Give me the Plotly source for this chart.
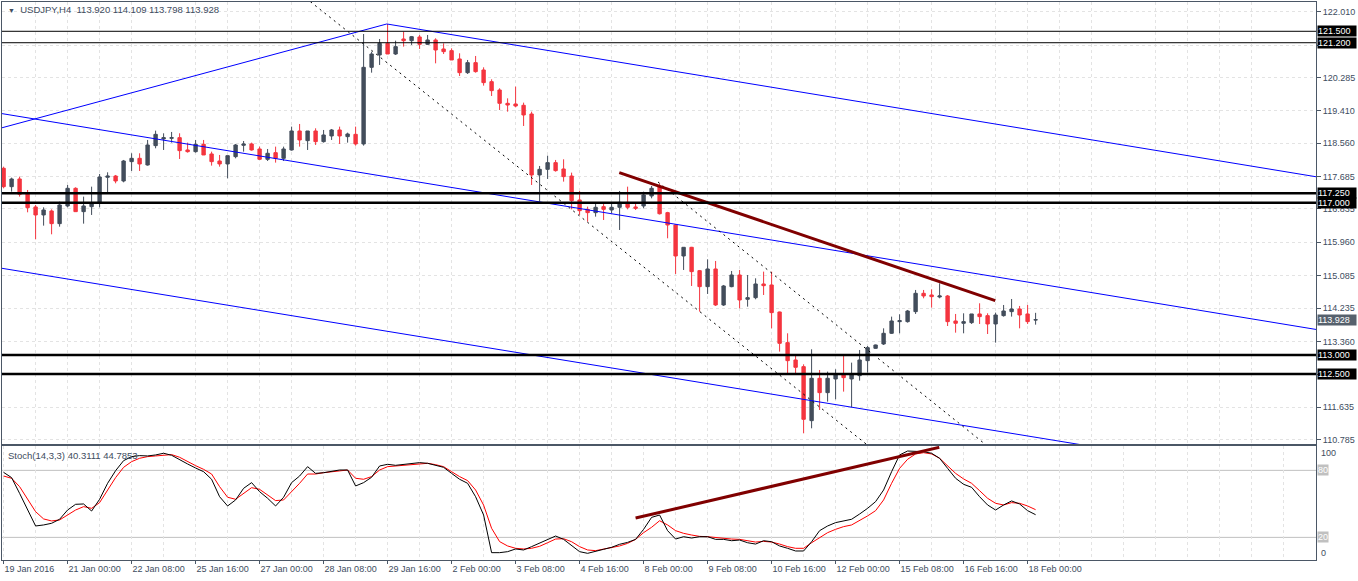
import plotly.graph_objects as go

W, H = 1358, 581

# ---- candles (H4 bars, index 0 = 19 Jan 2016 16:00) ----
opens = [117.903, 117.421, 117.623, 117.238, 116.888, 116.678, 116.783, 116.450, 116.914, 117.378,
         116.765, 116.896, 117.001, 117.667, 117.701, 117.570, 118.078, 118.165, 117.990, 118.498,
         118.673, 118.690, 118.708, 118.384, 118.340, 118.533, 118.279, 118.095, 118.017, 118.209,
         118.507, 118.542, 118.410, 118.139, 118.314, 118.165, 118.384, 118.883, 118.629, 118.883,
         118.603, 118.752, 118.909, 118.734, 118.795, 118.542, 120.554, 120.878, 121.184, 120.904,
         121.298, 121.254, 121.351, 121.158, 121.272, 121.036, 120.992, 120.773, 120.414, 120.677,
         120.484, 120.178, 119.959, 119.609, 119.592, 119.557, 119.329, 117.728, 117.876, 118.052,
         117.885, 117.701, 117.071, 116.826, 116.739, 116.896, 116.809, 116.879, 117.010, 116.888,
         116.914, 117.176, 117.420, 116.739, 116.415, 115.601, 115.829, 115.216, 114.796, 115.260,
         114.315, 114.796, 115.102, 114.464, 114.507, 114.866, 114.840, 114.131, 113.326, 112.871,
         112.696, 111.278, 112.390, 112.013, 112.372, 112.477, 112.372, 112.460, 112.853, 113.177,
         113.291, 113.571, 113.877, 113.877, 114.140, 114.621, 114.577, 114.525, 114.551, 113.895,
         113.834, 113.851, 114.079, 114.035, 113.816, 114.035, 114.140, 114.210, 114.079, 113.920]
highs = [117.946, 117.658, 117.684, 117.334, 116.940, 116.879, 116.826, 117.028, 117.465, 117.404,
         117.159, 117.421, 117.754, 117.798, 117.728, 118.122, 118.297, 118.297, 118.647, 118.892,
         118.822, 118.857, 118.822, 118.577, 118.647, 118.647, 118.340, 118.253, 118.235, 118.542,
         118.620, 118.577, 118.472, 118.410, 118.472, 118.472, 118.997, 119.067, 118.883, 118.953,
         118.909, 118.935, 118.997, 118.839, 118.997, 121.429, 120.966, 121.298, 121.692, 121.254,
         121.491, 121.377, 121.403, 121.403, 121.316, 121.184, 121.053, 120.922, 120.747, 120.852,
         120.554, 120.239, 120.003, 119.740, 120.047, 119.627, 119.390, 117.964, 118.235, 118.122,
         118.139, 117.789, 117.308, 116.896, 116.984, 116.966, 116.966, 117.308, 117.421, 117.001,
         117.290, 117.439, 117.500, 116.760, 116.430, 115.829, 115.840, 115.234, 115.514, 115.470,
         114.840, 115.207, 115.234, 115.102, 115.015, 115.190, 115.190, 114.140, 113.571, 113.002,
         112.757, 113.151, 112.608, 112.565, 112.626, 113.002, 112.801, 113.133, 113.238, 113.275,
         113.702, 114.009, 114.070, 114.184, 114.709, 114.709, 114.726, 114.884, 114.577, 114.079,
         114.096, 114.079, 114.359, 114.096, 114.114, 114.315, 114.472, 114.289, 114.315, 114.109]
lows = [117.378, 117.290, 117.159, 116.748, 116.039, 116.398, 116.170, 116.371, 116.879, 116.765,
        116.450, 116.678, 116.879, 117.246, 117.509, 117.535, 117.833, 117.833, 117.973, 118.428,
        118.384, 118.577, 118.148, 118.314, 118.314, 118.253, 117.973, 117.946, 117.640, 118.165,
        118.340, 118.367, 118.122, 118.095, 118.052, 118.095, 118.367, 118.472, 118.384, 118.515,
        118.577, 118.647, 118.542, 118.577, 118.498, 118.498, 120.414, 120.616, 120.904, 120.878,
        121.097, 121.141, 121.036, 121.141, 120.659, 120.904, 120.747, 120.327, 120.379, 120.414,
        120.073, 119.802, 119.434, 119.390, 119.504, 119.014, 117.465, 117.028, 117.623, 117.815,
        117.553, 116.826, 116.678, 116.503, 116.634, 116.546, 116.721, 116.284, 116.826, 116.809,
        116.853, 117.115, 116.690, 116.065, 115.129, 115.234, 114.814, 114.140, 114.604, 114.289,
        114.290, 114.780, 114.227, 114.271, 114.464, 114.577, 113.702, 113.090, 112.503, 112.503,
        110.946, 111.077, 111.558, 111.777, 111.838, 112.040, 111.628, 112.328, 112.538, 113.165,
        113.265, 113.553, 113.571, 113.851, 114.079, 114.490, 114.245, 114.490, 113.763, 113.588,
        113.571, 113.816, 113.816, 113.553, 113.326, 114.009, 114.009, 113.702, 113.816, 113.798]
closes = [117.421, 117.623, 117.220, 116.870, 116.678, 116.809, 116.450, 116.940, 117.378, 116.765,
          116.914, 117.001, 117.675, 117.701, 117.570, 118.095, 118.165, 118.017, 118.515, 118.795,
          118.708, 118.708, 118.367, 118.340, 118.533, 118.253, 118.078, 118.017, 118.235, 118.515,
          118.542, 118.384, 118.139, 118.297, 118.165, 118.410, 118.883, 118.647, 118.883, 118.603,
          118.778, 118.909, 118.752, 118.804, 118.542, 120.554, 120.904, 121.184, 120.904, 121.097,
          121.254, 121.359, 121.158, 121.272, 121.009, 120.966, 120.747, 120.414, 120.677, 120.441,
          120.152, 119.942, 119.609, 119.565, 119.539, 119.303, 117.728, 117.876, 118.052, 117.842,
          117.684, 117.054, 116.791, 116.739, 116.879, 116.826, 116.879, 117.010, 116.879, 116.853,
          117.203, 117.378, 116.710, 116.415, 115.601, 115.829, 115.190, 114.796, 115.260, 114.315,
          114.814, 115.102, 114.446, 114.507, 114.866, 114.822, 114.114, 113.308, 112.853, 112.678,
          111.313, 112.390, 112.013, 112.390, 112.477, 112.407, 112.477, 112.871, 113.195, 113.265,
          113.571, 113.895, 113.904, 114.157, 114.621, 114.551, 114.534, 114.551, 113.877, 113.834,
          113.877, 114.079, 114.009, 113.816, 114.052, 114.157, 114.210, 114.052, 113.877, 113.928]
bars = list(range(len(opens)))

# ---- Stochastic(14,3,3) ----
stoch_main = [78.2, 73.5, 59.4, 44.5, 30.2, 31.1, 32.6, 36.2, 44.5, 49.6, 49.9, 43.6, 54.1, 68.4, 79.7,
              88.7, 92.3, 93.2, 92.9, 93.8, 95.3, 93.5, 89.3, 85.7, 82.1, 78.8, 72.0, 56.4, 48.1, 53.5,
              63.9, 69.0, 60.9, 55.0, 48.1, 55.9, 69.0, 74.9, 83.3, 77.3, 77.9, 78.8, 80.3, 80.3, 66.0,
              69.0, 73.8, 83.9, 85.4, 84.5, 85.1, 86.3, 86.9, 86.3, 84.5, 82.7, 77.3, 72.0, 68.4, 56.4,
              40.0, 6.3, 6.3, 7.2, 9.6, 8.7, 11.7, 15.0, 17.6, 21.2, 18.2, 12.3, 7.2, 5.7, 7.2,
              9.3, 11.1, 13.8, 15.5, 18.2, 27.2, 37.9, 40.0, 26.0, 18.5, 20.6, 19.4, 20.6, 20.6, 18.2,
              18.2, 17.0, 17.6, 15.2, 14.0, 17.0, 16.1, 12.3, 10.2, 7.8, 7.8, 16.1, 26.0, 30.2, 33.2,
              34.7, 36.2, 40.9, 46.0, 52.0, 62.4, 78.8, 93.8, 97.3, 97.3, 96.7, 95.3, 90.8, 81.8, 72.9,
              67.5, 64.8, 56.4, 49.0, 44.5, 49.0, 52.6, 49.9, 43.9, 40.3]
stoch_signal = [74.9, 72.9, 65.4, 54.1, 43.0, 36.5, 34.7, 35.6, 40.0, 44.5, 47.5, 46.0, 51.1, 62.4, 73.5,
                82.7, 87.8, 90.8, 92.3, 92.9, 93.5, 94.1, 91.7, 87.8, 84.2, 80.9, 76.7, 65.4, 55.9, 54.1,
                59.4, 64.5, 63.0, 57.9, 52.9, 53.5, 60.9, 68.4, 76.7, 76.7, 77.9, 78.8, 79.7, 80.3, 72.9,
                72.0, 74.4, 80.3, 83.3, 83.9, 84.5, 85.7, 86.3, 86.3, 85.1, 83.3, 78.8, 74.4, 70.8, 62.4,
                48.9, 28.1, 16.2, 12.3, 10.2, 9.6, 10.2, 12.0, 15.2, 18.5, 18.8, 16.1, 11.7, 8.7, 8.1,
                9.3, 10.5, 12.3, 14.6, 18.2, 24.2, 29.0, 34.9, 31.1, 26.0, 23.6, 22.1, 20.9, 20.6, 19.7,
                19.1, 18.5, 18.2, 16.8, 15.8, 16.4, 15.8, 14.0, 11.7, 10.2, 10.2, 15.2, 20.0, 24.2, 27.2,
                29.6, 31.1, 34.9, 39.2, 43.9, 53.5, 68.4, 81.8, 89.9, 94.7, 95.8, 94.7, 90.8, 83.9, 77.3,
                72.3, 68.4, 61.8, 55.0, 50.5, 49.0, 51.1, 50.5, 48.1, 44.8]

# ---- time axis labels (every 8 bars) ----
time_labels = ["19 Jan 2016", "21 Jan 00:00", "22 Jan 08:00", "25 Jan 16:00", "27 Jan 00:00",
               "28 Jan 08:00", "29 Jan 16:00", "2 Feb 00:00", "3 Feb 08:00", "4 Feb 16:00",
               "8 Feb 00:00", "9 Feb 08:00", "10 Feb 16:00", "12 Feb 00:00", "15 Feb 08:00",
               "16 Feb 16:00", "18 Feb 00:00"]
price_ticks = [122.010, 121.135, 120.285, 119.410, 118.560, 117.685, 116.835, 115.960,
               115.085, 114.235, 113.360, 112.485, 111.635, 110.785]
# tick labels hidden behind the level boxes in the terminal
hidden_ticks = [121.135, 112.485]

# ---- drawn objects (bar index, price) ----
thin_levels = [121.500, 121.200]
thick_levels = [117.250, 117.000, 113.000, 112.500]
last_price = 113.928
blue_lines = [
    (-0.45, 118.953, 47.9, 121.692),
    (47.9, 121.692, 164.1, 117.680),
    (-0.45, 119.347, 164.1, 113.671),
    (-0.45, 115.286, 164.1, 109.636),
]
dashed_lines = [
    (36.0, 122.67, 110.0, 110.30),
    (81.8, 117.544, 124.0, 110.44),
]
price_trend = (76.96, 117.788, 123.96, 114.427)
stoch_trend = (79.0, 37.3, 116.96, 100.6)

BULL = "#434d5b"
BEAR = "#f4353f"
FRAME = "#4b5766"
TXT = "#3e4c5e"
GRID = "#e3e3e3"
FONT = "Liberation Sans, Arial, sans-serif"


def px_x(p):
    return p / W


def px_y(p):
    return 1 - p / H


x_dom = [px_x(2), px_x(1316)]
x_rng = [-0.2, 164.05]

fig = go.Figure()

fig.add_trace(go.Candlestick(
    x=bars, open=opens, high=highs, low=lows, close=closes,
    increasing=dict(line=dict(color=BULL, width=1), fillcolor=BULL),
    decreasing=dict(line=dict(color=BEAR, width=1), fillcolor=BEAR),
    whiskerwidth=0, xaxis="x", yaxis="y", showlegend=False,
))

for x0, y0, x1, y1 in blue_lines:
    fig.add_trace(go.Scatter(x=[x0, x1], y=[y0, y1], mode="lines",
                             line=dict(color="#0000ff", width=1),
                             xaxis="x", yaxis="y", showlegend=False, hoverinfo="skip"))
for x0, y0, x1, y1 in dashed_lines:
    fig.add_trace(go.Scatter(x=[x0, x1], y=[y0, y1], mode="lines",
                             line=dict(color="#000000", width=1, dash="2px,4px"),
                             xaxis="x", yaxis="y", showlegend=False, hoverinfo="skip"))
fig.add_trace(go.Scatter(x=[price_trend[0], price_trend[2]], y=[price_trend[1], price_trend[3]],
                         mode="lines", line=dict(color="#800000", width=3),
                         xaxis="x", yaxis="y", showlegend=False, hoverinfo="skip"))

# stochastic
fig.add_trace(go.Scatter(x=bars, y=stoch_signal, mode="lines", line=dict(color="#ff0000", width=1),
                         xaxis="x2", yaxis="y2", showlegend=False))
fig.add_trace(go.Scatter(x=bars, y=stoch_main, mode="lines", line=dict(color="#000000", width=1),
                         xaxis="x2", yaxis="y2", showlegend=False))
fig.add_trace(go.Scatter(x=[stoch_trend[0], stoch_trend[2]], y=[stoch_trend[1], stoch_trend[3]],
                         mode="lines", line=dict(color="#800000", width=3),
                         xaxis="x2", yaxis="y2", showlegend=False, hoverinfo="skip"))

shapes = []
for lv in thin_levels:
    shapes.append(dict(type="line", xref="x domain", yref="y", x0=0, x1=1, y0=lv, y1=lv,
                       line=dict(color="#000000", width=1)))
for lv in thick_levels:
    shapes.append(dict(type="line", xref="x domain", yref="y", x0=0, x1=1, y0=lv, y1=lv,
                       line=dict(color="#000000", width=2.5)))
for lv in [80, 20]:
    shapes.append(dict(type="line", xref="x2 domain", yref="y2", x0=0, x1=1, y0=lv, y1=lv,
                       line=dict(color="#c0c0c0", width=1), layer="below"))

annotations = []
for lv in thin_levels + thick_levels:
    annotations.append(dict(xref="paper", yref="y", x=px_x(1316.5), y=lv, xanchor="left",
                            yanchor="middle", text=f"{lv:.3f}", showarrow=False,
                            bgcolor="#000000", width=38, align="left", borderpad=0,
                            font=dict(family=FONT, size=9, color="#ffffff")))
annotations.append(dict(xref="paper", yref="y", x=px_x(1316.5), y=last_price, xanchor="left",
                        yanchor="middle", text=f"{last_price:.3f}", showarrow=False,
                        bgcolor="#56616d", width=38, align="left", borderpad=0,
                        font=dict(family=FONT, size=9, color="#ffffff")))
for lv, y in [("100", 95.5), ("0", 6.0)]:
    annotations.append(dict(xref="paper", yref="y2", x=px_x(1319), y=y, xanchor="left",
                            yanchor="middle", text=lv, showarrow=False,
                            font=dict(family=FONT, size=9, color=TXT)))
for lv in [80, 20]:
    annotations.append(dict(xref="paper", yref="y2", x=px_x(1317), y=lv, xanchor="left",
                            yanchor="middle", text=str(lv), showarrow=False,
                            bgcolor="#c0c0c0", borderpad=0,
                            font=dict(family=FONT, size=9, color="#ffffff")))
annotations.append(dict(xref="paper", yref="paper", x=px_x(6), y=px_y(10), xanchor="left",
                        yanchor="middle", showarrow=False,
                        text="<span style='font-size:7px'>▼</span>  USDJPY,H4  113.920 114.109 113.798 113.928",
                        font=dict(family=FONT, size=9.5, color=TXT)))
annotations.append(dict(xref="paper", yref="paper", x=px_x(6), y=px_y(455), xanchor="left",
                        yanchor="middle", showarrow=False,
                        text="Stoch(14,3,3) 40.3111 44.7853",
                        font=dict(family=FONT, size=9.5, color=TXT)))

axis_common = dict(showline=True, mirror=True, linecolor=FRAME, linewidth=1, zeroline=False)

fig.update_layout(
    width=W, height=H, autosize=False,
    margin=dict(l=0, r=0, t=0, b=0),
    paper_bgcolor="#ffffff", plot_bgcolor="#ffffff",
    boxgap=0.4,
    showlegend=False,
    shapes=shapes, annotations=annotations,
    font=dict(family=FONT, size=9, color=TXT),
    xaxis=dict(domain=x_dom, range=x_rng, anchor="y", showticklabels=False,
               rangeslider=dict(visible=False), showgrid=False, ticks="",
               minor=dict(dtick=4, tick0=0, showgrid=True, gridcolor=GRID, griddash="3px,3px"),
               **axis_common),
    xaxis2=dict(domain=x_dom, range=x_rng, anchor="y2", matches="x",
                tickvals=list(range(0, 8 * len(time_labels), 8)), ticktext=time_labels,
                ticklabelposition="outside right", ticks="outside", ticklen=3, tickcolor=FRAME,
                tickfont=dict(family=FONT, size=9, color=TXT), showgrid=False,
                minor=dict(dtick=4, tick0=0, showgrid=True, gridcolor=GRID, griddash="3px,3px"),
                **axis_common),
    yaxis=dict(domain=[px_y(444), px_y(2)], range=[110.665, 122.269], anchor="x", side="right",
               tickvals=price_ticks,
               ticktext=["" if v in hidden_ticks else f"{v:.3f}" for v in price_ticks],
               ticks="outside", ticklen=4, tickcolor=FRAME,
               tickfont=dict(family=FONT, size=9, color=TXT),
               showgrid=True, gridcolor=GRID, griddash="3px,3px", **axis_common),
    yaxis2=dict(domain=[px_y(560), px_y(446)], range=[-0.27, 101.8], anchor="x2", side="right",
                showticklabels=False, ticks="", showgrid=False, **axis_common),
)

fig.write_html("out.html", config={"displayModeBar": False},
               post_script="document.body.style.margin='0px';document.body.style.overflow='hidden';")
